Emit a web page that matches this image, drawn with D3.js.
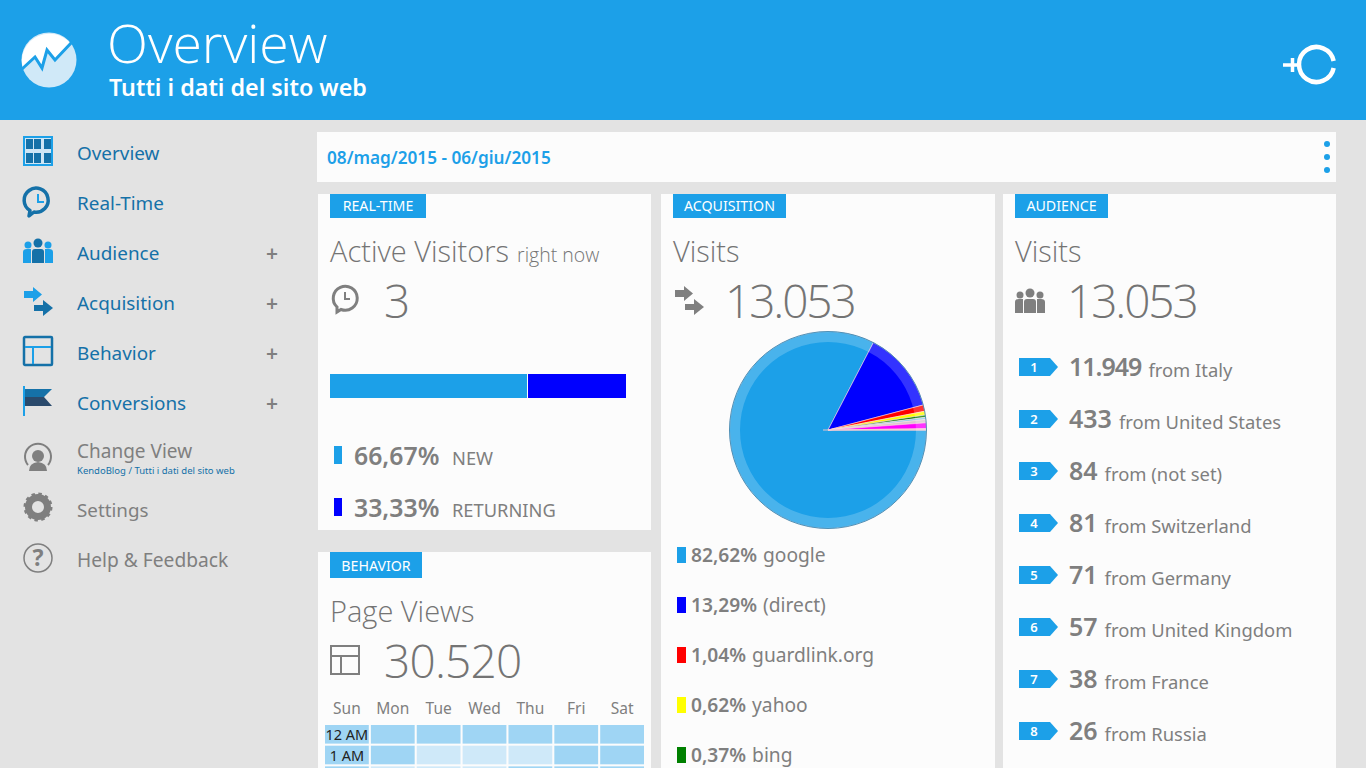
<!DOCTYPE html>
<html>
<head>
<meta charset="UTF-8">
<title>Overview</title>
<script src="https://d3js.org/d3.v7.min.js"></script>
<style>
  html, body { margin: 0; padding: 0; background: #e3e3e3; overflow: hidden; }
  svg { display: block; }
  text { font-family: "Noto Sans", "Open Sans", sans-serif; }
  .light { font-family: "Open Sans", sans-serif; font-weight: 300; }
</style>
</head>
<body>
<svg id="page" width="1366" height="768"></svg>
<script>
// ---- data
var menuLabels = ["Overview", "Real-Time", "Audience", "Acquisition", "Behavior", "Conversions"];
var menuPlus = [false, false, true, true, true, true];

var visitorTypes = ["NEW", "RETURNING"];
var visitorShare = [66.67, 33.33];
var visitorColors = ["#1ca0e8", "#0000ff"];

var sourceNames = ["google", "(direct)", "guardlink.org", "yahoo", "bing", "other 1", "other 2", "other 3", "other 4"];
var sourceShare = [82.62, 13.29, 1.04, 0.62, 0.37, 0.35, 0.55, 0.95, 0.21];
var sourceColors = ["#1ca0e8", "#0000ff", "#ff0000", "#ffff00", "#008000", "#87ceeb", "#d8c8d0", "#ff00ff", "#ffc0cb"];

var countryNames = ["Italy", "United States", "(not set)", "Switzerland", "Germany", "United Kingdom", "France", "Russia"];
var countryVisits = [11949, 433, 84, 81, 71, 57, 38, 26];

var dayNames = ["Sun", "Mon", "Tue", "Wed", "Thu", "Fri", "Sat"];
var hourNames = ["12 AM", "1 AM", "2 AM"];
var hourLevels = [
  [2, 2, 2, 2, 2, 2, 2],
  [2, 2, 1, 1, 1, 2, 2],
  [2, 1, 1, 1, 2, 2, 2]
];

var totalVisits = 13053;
var pageViews = 30520;
var activeNow = 3;

// ---- look
var blue = "#1ca0e8", darkBlue = "#1571a8", grey = "#7f7f7f", lightGrey = "#747474", card = "#fcfcfc";
var itLocale = d3.formatLocale({ decimal: ",", thousands: ".", grouping: [3], currency: ["€", ""] });
var fmtInt = itLocale.format(",d");
var fmtPct = itLocale.format(".2f");

var svg = d3.select("#page");

function label(parent, x, y, str, size, color, weight, anchor) {
  return parent.append("text")
    .attr("x", x).attr("y", y)
    .attr("font-size", size)
    .attr("fill", color)
    .attr("font-weight", weight || 400)
    .attr("text-anchor", anchor || "start")
    .text(str);
}
// thin heading or big number
function lightLabel(x, y, str, size, spacing) {
  return label(svg, x, y, str, size, lightGrey).attr("class", "light").attr("letter-spacing", spacing || 0);
}
function box(parent, x, y, w, h, color) {
  return parent.append("rect").attr("x", x).attr("y", y).attr("width", w).attr("height", h).attr("fill", color);
}
function icon(parent, x, y) {
  return parent.append("g").attr("transform", "translate(" + x + "," + y + ")");
}

// ---- page background and header
box(svg, 0, 0, 1366, 768, "#e3e3e3");
box(svg, 0, 0, 1366, 120, blue);

var logo = icon(svg, 49, 60);
logo.append("circle").attr("r", 27.5).attr("fill", "#d0e9f8");
logo.append("path")
  .attr("d", "M-26,8 L-14,-3 L-7,8 L-2,-10 L6,0 L21,-17 A27.5,27.5 0 0 0 -27,4 Z")
  .attr("fill", "#fff");
logo.append("path")
  .attr("d", "M-27,9 L-14,-3 L-7,8 L-2,-10 L6,0 L23,-18")
  .attr("fill", "none").attr("stroke", blue).attr("stroke-width", 3);

label(svg, 107, 63, "Overview", 53.5, "#fff").attr("class", "light");
label(svg, 109, 96, "Tutti i dati del sito web", 23.3, "#fff", 600);

var addIcon = icon(svg, 1316.5, 64.5);
addIcon.append("path")
  .attr("d", "M17.15,-3.5 A17.5,17.5 0 1 0 17.15,3.5")
  .attr("fill", "none").attr("stroke", "#fff").attr("stroke-width", 4.5);
addIcon.append("path")
  .attr("d", "M-33.5,0.5 H-17 M-24,-6.5 V7.5")
  .attr("fill", "none").attr("stroke", "#fff").attr("stroke-width", 3.5);

// ---- side menu
var menuY = d3.scalePoint().domain(menuLabels).range([153, 403]);
menuLabels.forEach(function(m, i) {
  label(svg, 77, menuY(m) + 7, m, 18.9, darkBlue);
  if (menuPlus[i]) label(svg, 272, menuY(m) + 8, "+", 21, grey, 600, "middle");
});

var ic = icon(svg, 23, 136);
box(ic, 0, 0, 30, 30, blue);
box(ic, 2, 2, 26, 26, "#cfe6f5");
[3, 11, 21].forEach(function(x) {
  [3, 17].forEach(function(y) {
    box(ic, x, y, 7, 10, darkBlue);
  });
});

ic = icon(svg, 38, 200);
ic.append("path").attr("d", "M-8,10.5 A12,12 0 1 1 -4,12 L-9,16 Z").attr("fill", "#e3e3e3")
  .attr("stroke", darkBlue).attr("stroke-width", 3.5).attr("stroke-linejoin", "round");
ic.append("path").attr("d", "M0,-6 V2 H6").attr("fill", "none").attr("stroke", blue).attr("stroke-width", 2);

function people(parent, a, b) {
  parent.append("circle").attr("cx", 5).attr("cy", 6).attr("r", 3.5).attr("fill", a);
  parent.append("circle").attr("cx", 25).attr("cy", 6).attr("r", 3.5).attr("fill", a);
  parent.append("circle").attr("cx", 15).attr("cy", 4).attr("r", 4.5).attr("fill", b);
  parent.append("path").attr("d", "M0,24 V13 Q0,10 4,10 H8 V24 Z M30,24 V13 Q30,10 26,10 H22 V24 Z").attr("fill", a);
  parent.append("path").attr("d", "M9,24 V13 Q9,10 12,10 H18 Q21,10 21,13 V24 Z").attr("fill", b);
}
people(icon(svg, 23, 239), blue, darkBlue);

function arrows(parent, a, b) {
  parent.append("path").attr("d", "M1,4 H10 V0 L19,7.5 L10,15 V11 H1 Z").attr("fill", a);
  parent.append("path").attr("d", "M11,18 H20 V13 L30,21 L20,29 V24 H11 Z").attr("fill", b);
}
arrows(icon(svg, 23, 287), blue, darkBlue);

ic = icon(svg, 23, 336);
ic.append("rect").attr("x", 1).attr("y", 1).attr("width", 28).attr("height", 28).attr("rx", 1)
  .attr("fill", "none").attr("stroke", darkBlue).attr("stroke-width", 2.5);
ic.append("path").attr("d", "M2,11 H28 M10,11 V28").attr("stroke", blue).attr("stroke-width", 2);

ic = icon(svg, 23, 386);
box(ic, 0, 0, 2, 30, blue);
ic.append("path").attr("d", "M2,3 H29 L21,11 H2 Z").attr("fill", darkBlue);
ic.append("path").attr("d", "M2,11 H21 L29,20 H2 Z").attr("fill", "#2a4a6c");

ic = icon(svg, 38, 457);
ic.append("path").attr("d", "M-10,8 A13,13 0 1 1 10,8").attr("fill", "none").attr("stroke", grey).attr("stroke-width", 2);
ic.append("circle").attr("cy", -1).attr("r", 6).attr("fill", grey);
ic.append("path").attr("d", "M-9,14 Q-9,6 0,5 Q9,6 9,14 Z").attr("fill", grey);
label(svg, 77, 458, "Change View", 19, grey);
label(svg, 77, 474, "KendoBlog / Tutti i dati del sito web", 9.5, darkBlue);

ic = icon(svg, 38, 507);
ic.append("circle").attr("r", 9.5).attr("fill", "none").attr("stroke", grey).attr("stroke-width", 7);
ic.append("circle").attr("r", 13).attr("fill", "none").attr("stroke", grey).attr("stroke-width", 3).attr("stroke-dasharray", "3.4 3.4");
label(svg, 77, 517, "Settings", 18.8, grey);

ic = icon(svg, 38, 558);
ic.append("circle").attr("r", 14).attr("fill", "none").attr("stroke", grey).attr("stroke-width", 1.5);
label(ic, 0, 8, "?", 23, grey, 700, "middle");
label(svg, 77, 567, "Help & Feedback", 19.2, grey);

// ---- date bar
box(svg, 317, 132, 1019, 50, card);
label(svg, 327, 164, "08/mag/2015 - 06/giu/2015", 17.2, blue, 600);
[144, 157, 170].forEach(function(cy) {
  svg.append("circle").attr("cx", 1327).attr("cy", cy).attr("r", 3).attr("fill", blue);
});

// ---- cards
box(svg, 318, 194, 333, 336, card);
box(svg, 318, 552, 333, 216, card);
box(svg, 661, 194, 334, 574, card);
box(svg, 1003, 194, 333, 574, card);

function tag(x, y, w, h, str) {
  box(svg, x, y, w, h, blue);
  label(svg, x + w / 2, y + h - 7, str, 14.2, "#fff", 400, "middle");
}
tag(330, 194, 96, 24, "REAL-TIME");
tag(330, 552, 92, 26, "BEHAVIOR");
tag(673, 194, 113, 24, "ACQUISITION");
tag(1015, 194, 93, 24, "AUDIENCE");

// ---- real-time card
var rt = lightLabel(330, 262, "Active Visitors", 29);
rt.append("tspan").attr("font-size", 19.5).attr("dx", 8).text("right now");
ic = icon(svg, 345, 298);
ic.append("path").attr("d", "M-8,9 A12,12 0 1 1 -4,11.5 L-8,14 Z").attr("fill", "none").attr("stroke", grey).attr("stroke-width", 3);
ic.append("path").attr("d", "M0,-6 V1 H5").attr("fill", "none").attr("stroke", grey).attr("stroke-width", 2);
lightLabel(384, 318, activeNow, 46);

var stack = d3.stack().keys(visitorTypes)([Object.fromEntries(visitorTypes.map(function(t, i) { return [t, visitorShare[i]]; }))]);
var barX = d3.scaleLinear().domain([0, 100]).range([330, 627]);
svg.append("g").selectAll("rect").data(stack).join("rect")
  .attr("x", function(d) { return barX(d[0][0]); })
  .attr("width", function(d) { return barX(d[0][1]) - barX(d[0][0]) - 1; })
  .attr("y", 374).attr("height", 24)
  .attr("fill", function(d, i) { return visitorColors[i]; });

var typeY = d3.scalePoint().domain(visitorTypes).range([456, 508]);
visitorTypes.forEach(function(t, i) {
  box(svg, 334, typeY(t) - 10, 8, 18, visitorColors[i]);
  label(svg, 354, typeY(t) + 9, fmtPct(visitorShare[i]) + "%", 24.8, grey, 600);
  label(svg, 452, typeY(t) + 9, t, 18.3, grey);
});

// ---- page views card with heatmap
lightLabel(330, 622, "Page Views", 29);
ic = icon(svg, 330, 645);
ic.append("rect").attr("x", 1).attr("y", 1).attr("width", 28).attr("height", 28).attr("fill", "none").attr("stroke", grey).attr("stroke-width", 2);
ic.append("path").attr("d", "M2,11 H28 M11,11 V28").attr("stroke", grey).attr("stroke-width", 2);
lightLabel(384, 678, fmtInt(pageViews), 46, -0.8);

var dayX = d3.scaleBand().domain(dayNames).range([325, 644]).paddingInner(0.045);
var hourY = d3.scaleBand().domain(hourNames).range([725, 785]).paddingInner(0.1);
var levelColor = d3.scaleOrdinal().domain([1, 2]).range(["#cfe9f9", "#9fd5f4"]);

var dayAxis = d3.axisTop(dayX).tickSize(0).tickPadding(0);
svg.append("g").attr("transform", "translate(0,714)").call(dayAxis)
  .call(function(g) { g.select(".domain").remove(); })
  .call(function(g) {
    g.selectAll("text").attr("font-size", 15.5).attr("fill", grey)
      .style("font-family", "'Noto Sans', sans-serif");
  });

var heat = svg.append("g");
hourNames.forEach(function(h, r) {
  heat.selectAll("rect.r" + r).data(hourLevels[r]).join("rect")
    .attr("class", "r" + r)
    .attr("x", function(d, c) { return dayX(dayNames[c]); })
    .attr("y", hourY(h))
    .attr("width", dayX.bandwidth())
    .attr("height", hourY.bandwidth())
    .attr("fill", function(d) { return levelColor(d); });
  // the page ends before the third row label
  if (hourY(h) + 15 < 768) {
    label(heat, dayX(dayNames[0]) + dayX.bandwidth() / 2, hourY(h) + 15, h, 14.5, "#222", 400, "middle");
  }
});

// ---- acquisition card with pie
lightLabel(673, 262, "Visits", 29);
arrows(icon(svg, 674, 286), grey, grey);
lightLabel(725, 318, fmtInt(totalVisits), 46, -2.1);

var pieGen = d3.pie().sort(null).startAngle(Math.PI / 2).endAngle(Math.PI * 2.5);
var arcs = pieGen(sourceShare);
var rOuter = 98.5, rInner = 88;
var arcInner = d3.arc().innerRadius(0).outerRadius(rOuter);
var pieG = svg.append("g").attr("transform", "translate(828,430)");
pieG.selectAll("path.slice").data(arcs).join("path")
  .attr("class", "slice")
  .attr("d", arcInner)
  .attr("fill", function(d, i) { return sourceColors[i]; })
  .attr("stroke", "#ffd8e0").attr("stroke-opacity", 0.55).attr("stroke-width", 1);
// pale seam where the pie starts, it runs a little past the centre
pieG.append("line").attr("x1", -5).attr("x2", rOuter).attr("y1", 0).attr("y2", 0)
  .attr("stroke", "#e6c4cc").attr("stroke-width", 1.2);
// pale ring over the rim of the slices
var ring = d3.arc().innerRadius(rInner).outerRadius(rOuter).startAngle(0).endAngle(Math.PI * 2);
pieG.append("path").attr("d", ring()).attr("fill", "#fff").attr("fill-opacity", 0.2);
pieG.append("circle").attr("r", rOuter).attr("fill", "none").attr("stroke", "#2f7fa8").attr("stroke-width", 0.8);

var sourceY = d3.scalePoint().domain(d3.range(5)).range([555, 755]);
d3.range(5).forEach(function(i) {
  box(svg, 677, sourceY(i) - 8, 9, 16, sourceColors[i]);
  var t = label(svg, 691, sourceY(i) + 7, fmtPct(sourceShare[i]) + "%", 19.2, grey, 600);
  t.append("tspan").attr("font-weight", 400).attr("dx", 6).text(sourceNames[i]);
});

// ---- audience card
lightLabel(1015, 262, "Visits", 29);
people(icon(svg, 1015, 289), grey, grey);
lightLabel(1067, 318, fmtInt(totalVisits), 46, -2.1);

var countryY = d3.scalePoint().domain(countryNames).range([367, 731]);
var rankTag = d3.line();
countryNames.forEach(function(c, i) {
  var y = countryY(c);
  svg.append("path")
    .attr("d", rankTag([[1019, y - 9], [1050, y - 9], [1058, y], [1050, y + 9], [1019, y + 9]]) + "Z")
    .attr("fill", blue);
  label(svg, 1034, y + 5, i + 1, 13, "#fff", 600, "middle");
  var t = label(svg, 1069, y + 9, fmtInt(countryVisits[i]), 25, grey, 600)
    .attr("letter-spacing", i == 0 ? -1 : 0);
  t.append("tspan").attr("font-size", 18.4).attr("font-weight", 400).attr("letter-spacing", 0)
    .attr("dx", 7).attr("dy", 1).text("from " + c);
});
</script>
</body>
</html>
